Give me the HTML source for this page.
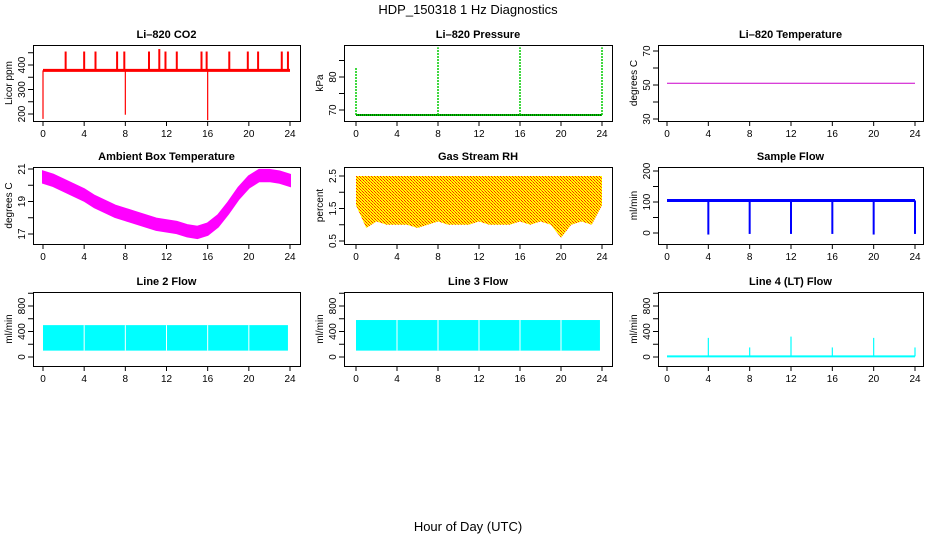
<!DOCTYPE html>
<html><head><meta charset="utf-8"><style>
html,body{margin:0;padding:0;background:#fff}
svg{display:block;font-family:"Liberation Sans",Arial,sans-serif}
</style></head><body>
<svg id="s" width="936" height="540" viewBox="0 0 936 540" xmlns="http://www.w3.org/2000/svg">
<defs>
<pattern id="rhpat" width="3" height="3" patternUnits="userSpaceOnUse">
<rect width="3" height="3" fill="#ffff00"/><rect x="0" y="0" width="1" height="1" fill="#ff2200"/><rect x="2" y="2" width="1" height="1" fill="#ff2200"/><rect x="1" y="1" width="1" height="1" fill="#ff6600"/>
</pattern>
</defs>
<text x="468" y="14" text-anchor="middle" font-size="13">HDP_150318  1 Hz Diagnostics</text>
<text x="468" y="531" text-anchor="middle" font-size="13">Hour of Day (UTC)</text>
</svg>
<script>
// ---- data ----
var xTicks=[0,4,8,12,16,20,24];
var co2Base=378;
var co2SpikeHours=[2.2,4,5.1,7.2,7.9,10.3,11.3,11.9,13,15.4,15.9,18.1,19.9,20.9,23.2,23.8];
var co2SpikeVals=[455,455,455,455,455,455,465,455,455,455,455,455,455,455,455,455];
var co2DipHours=[0,8,16];
var co2DipVals=[180,197,175];
var presBase=68.5;
var presSpikeHours=[0,8,16,24];
var presSpikeVals=[83,89,89,89];
var liTemp=51;
var ambHours=[0,1,2,3,4,5,6,7,8,9,10,11,12,13,14,15,16,17,18,19,20,21,22,23,24];
var ambMean=[20.5,20.3,20.0,19.7,19.4,19.0,18.7,18.4,18.2,18.0,17.8,17.6,17.5,17.4,17.2,17.1,17.3,17.8,18.6,19.5,20.2,20.6,20.6,20.5,20.3];
var ambHalf=0.35;
var rhHours=[0,1,2,3,4,5,6,7,8,9,10,11,12,13,14,15,16,17,18,19,20,21,22,23,24];
var rhLow=[1.6,0.9,1.1,1.0,1.0,1.0,0.9,1.0,1.1,1.0,1.0,1.0,1.1,1.0,1.0,1.0,1.1,1.0,1.1,1.0,0.6,1.0,1.1,1.0,1.6];
var rhHigh=2.5;
var flowBase=105;
var flowDropHours=[4,8,12,16,20,24];
var flowDropVals=[-5,-3,-3,-3,-5,-3];
var l2Low=100, l2High=500, l2End=23.8;
var l3Low=100, l3High=580, l3End=23.8;
var gapHours=[4,8,12,16,20];
var l4Base=10;
var l4SpikeHours=[4,8,12,16,20,24];
var l4SpikeVals=[300,150,320,150,300,150];

var NS="http://www.w3.org/2000/svg";
var svg=document.getElementById('s');
function el(tag,at,parent){var e=document.createElementNS(NS,tag);for(var k in at)e.setAttribute(k,at[k]);(parent||svg).appendChild(e);return e;}

var colX=[[33,300,43,290],[344,612,356,602],[658,923,667,915]];
var rowY=[[45,121],[167,244],[292,366]];

function panel(name,title,col,row,ymin,ymax,yb,yt,yTicks,yLabels,ylab){
  var c=colX[col],r=rowY[row];
  var g=el('g',{});
  
  
  var X=function(h){return c[2]+(c[3]-c[2])*h/24;};
  var Y=function(v){return yb+(yt-yb)*(v-ymin)/(ymax-ymin);};
  var t=el('text',{x:(c[0]+c[1])/2,y:r[0]-7,'text-anchor':'middle','font-size':11,'font-weight':'bold'},g);
  t.textContent=title;
  
  
  var plot=el('g',{},g);
  
  
  var box=el('rect',{x:c[0]+0.5,y:r[0]+0.5,width:c[1]-c[0],height:r[1]-r[0],fill:'none',stroke:'#000','stroke-width':1},g);
  
  
  var xa=el('g',{},g);
  
  
  xTicks.forEach(function(h){
    el('line',{x1:X(h),x2:X(h),y1:r[1],y2:r[1]+5,stroke:'#000'},xa);
    var tl=el('text',{x:X(h),y:r[1]+16,'text-anchor':'middle','font-size':10},xa);tl.textContent=h;
  });
  var ya=el('g',{},g);
  
  
  yTicks.forEach(function(v){el('line',{x1:c[0]-5,x2:c[0],y1:Y(v),y2:Y(v),stroke:'#000'},ya);});
  yLabels.forEach(function(v){
    var tl=el('text',{x:0,y:0,'text-anchor':'middle','font-size':10,transform:'translate('+(c[0]-8)+','+Y(v)+') rotate(-90)'},ya);tl.textContent=v;
  });
  var yl=el('text',{x:0,y:0,'text-anchor':'middle','font-size':10,transform:'translate('+(c[0]-21)+','+((r[0]+r[1])/2)+') rotate(-90)'},g);
  yl.textContent=ylab;
  
  
  return {X:X,Y:Y,g:plot};
}

// CO2
var p=panel('co2','Li\u2013820 CO2',0,0,200,400,114,65,[200,250,300,350,400,450],[200,300,400],'Licor ppm');
el('line',{x1:p.X(0),x2:p.X(24),y1:p.Y(co2Base),y2:p.Y(co2Base),stroke:'#f00','stroke-width':3},p.g);
co2SpikeHours.forEach(function(h,i){el('line',{x1:p.X(h),x2:p.X(h),y1:p.Y(co2Base),y2:p.Y(co2SpikeVals[i]),stroke:'#f00','stroke-width':2},p.g);});
co2DipHours.forEach(function(h,i){el('line',{x1:p.X(h),x2:p.X(h),y1:p.Y(co2Base),y2:p.Y(co2DipVals[i]),stroke:'#f00','stroke-width':1.2},p.g);});

// Pressure
p=panel('pressure','Li\u2013820 Pressure',1,0,70,80,110,77,[70,75,80,85],[70,80],'kPa');
el('line',{x1:p.X(0),x2:p.X(24),y1:p.Y(presBase),y2:p.Y(presBase),stroke:'#0c0','stroke-width':2},p.g);
el('line',{x1:p.X(0),x2:p.X(24),y1:p.Y(presBase),y2:p.Y(presBase),stroke:'#000','stroke-width':1,'stroke-dasharray':'1,1'},p.g);
presSpikeHours.forEach(function(h,i){el('line',{x1:p.X(h),x2:p.X(h),y1:p.Y(presBase),y2:p.Y(presSpikeVals[i]),stroke:'#0c0','stroke-width':1.5,'stroke-dasharray':'2,1'},p.g);});

// Li temp
p=panel('li-temp','Li\u2013820 Temperature',2,0,30,70,119,51,[30,40,50,60,70],[30,50,70],'degrees C');
el('line',{x1:p.X(0),x2:p.X(24),y1:p.Y(liTemp),y2:p.Y(liTemp),stroke:'#c0c','stroke-width':1},p.g);

// Ambient
p=panel('ambient-temp','Ambient Box Temperature',0,1,17,21,234,169,[17,18,19,20,21],[17,19,21],'degrees C');
var pts=ambHours.map(function(h,i){return p.X(h)+','+p.Y(ambMean[i]+ambHalf);});
var pts2=ambHours.map(function(h,i){return p.X(h)+','+p.Y(ambMean[i]-ambHalf);}).reverse();
el('polygon',{points:pts.concat(pts2).join(' '),fill:'#f0f',stroke:'#f0f','stroke-width':2},p.g);

// RH
p=panel('gas-rh','Gas Stream RH',1,1,0.5,2.5,241,176,[0.5,1,1.5,2,2.5],[0.5,1.5,2.5],'percent');
var rp=[p.X(0)+','+p.Y(rhHigh),p.X(24)+','+p.Y(rhHigh)];
for(var i=rhHours.length-1;i>=0;i--)rp.push(p.X(rhHours[i])+','+p.Y(rhLow[i]));
el('polygon',{points:rp.join(' '),fill:'url(#rhpat)'},p.g);

// Sample flow
p=panel('sample-flow','Sample Flow',2,1,0,200,233,171,[0,50,100,150,200],[0,100,200],'ml/min');
el('line',{x1:p.X(0),x2:p.X(24),y1:p.Y(flowBase),y2:p.Y(flowBase),stroke:'#00f','stroke-width':3},p.g);
flowDropHours.forEach(function(h,i){el('line',{x1:p.X(h),x2:p.X(h),y1:p.Y(flowBase),y2:p.Y(flowDropVals[i]),stroke:'#00f','stroke-width':2},p.g);});

// Line 2
p=panel('line2-flow','Line 2 Flow',0,2,0,800,357,306,[0,200,400,600,800,1000],[0,400,800],'ml/min');
el('rect',{x:p.X(0),y:p.Y(l2High),width:p.X(l2End)-p.X(0),height:p.Y(l2Low)-p.Y(l2High),fill:'#0ff'},p.g);
gapHours.forEach(function(h){el('line',{x1:p.X(h),x2:p.X(h),y1:p.Y(l2High),y2:p.Y(l2Low),stroke:'#fff','stroke-width':1},p.g);});
// Line 3
p=panel('line3-flow','Line 3 Flow',1,2,0,800,357,306,[0,200,400,600,800,1000],[0,400,800],'ml/min');
el('rect',{x:p.X(0),y:p.Y(l3High),width:p.X(l3End)-p.X(0),height:p.Y(l3Low)-p.Y(l3High),fill:'#0ff'},p.g);
gapHours.forEach(function(h){el('line',{x1:p.X(h),x2:p.X(h),y1:p.Y(l3High),y2:p.Y(l3Low),stroke:'#fff','stroke-width':1},p.g);});
// Line 4
p=panel('line4-flow','Line 4 (LT) Flow',2,2,0,800,357,306,[0,200,400,600,800,1000],[0,400,800],'ml/min');
el('line',{x1:p.X(0),x2:p.X(24),y1:p.Y(l4Base),y2:p.Y(l4Base),stroke:'#0ff','stroke-width':2},p.g);
l4SpikeHours.forEach(function(h,i){el('line',{x1:p.X(h),x2:p.X(h),y1:p.Y(l4Base),y2:p.Y(l4SpikeVals[i]),stroke:'#0ff','stroke-width':1.2},p.g);});
</script>
</body></html>
